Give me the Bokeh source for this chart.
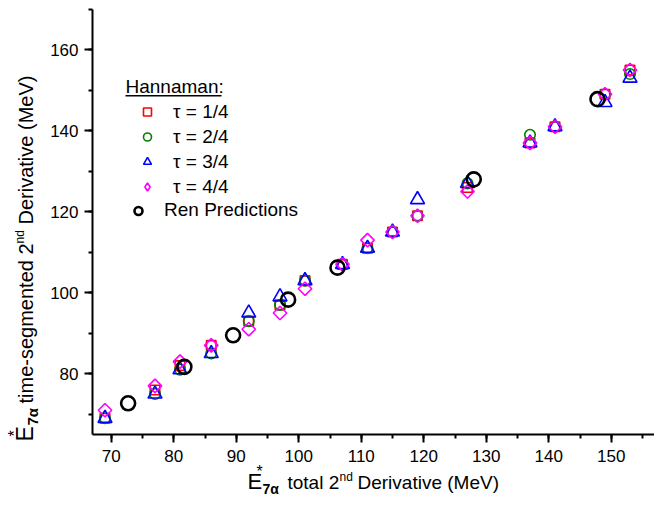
import math
from bokeh.plotting import figure
from bokeh.models import (Range1d, SingleIntervalTicker, Label, Legend, LegendItem,
                          BoxAnnotation)
from bokeh.embed import file_html
from bokeh.resources import INLINE

# ---------------- data ----------------
x_total = [69, 77, 81, 86, 92, 97, 101, 107, 111, 115, 119, 127, 137, 141, 149, 153]
tau_1_4 = [69, 76, 82, 87, 93, 97, 103, 107, 111, 115, 119, 126, 137, 141, 149, 155]
tau_2_4 = [69, 75, 81, 85, 93, 97, 103, 107, 111, 115, 119, 127, 139, 141, 149, 154]
tau_3_4 = [69, 75, 81, 85, 95, 99, 103, 107, 111, 115, 123, 127, 137, 141, 147, 153]
tau_4_4 = [71, 77, 83, 87, 91, 95, 101, 107, 113, 115, 119, 125, 137, 141, 149, 155]
ren_x = [72.7, 81.7, 89.5, 98.3, 106.2, 128.0, 147.8]
ren_y = [72.7, 81.7, 89.5, 98.3, 106.2, 128.0, 147.8]

series_labels = ["τ = 1/4", "τ = 2/4", "τ = 3/4", "τ = 4/4"]
ren_label = "Ren Predictions"
legend_title = "Hannaman"

x_axis_min, x_axis_max = 67, 158
y_axis_min, y_axis_max = 65, 170

FONT = "Liberation Sans"
W, H = 654, 496
# frame covers whole canvas; axes drawn at fixed locations
X_PX_PER_UNIT = 6.25
Y_PX_PER_UNIT = 4.05
AX_LEFT_PX = 92
AX_BOTTOM_PX = 434
x_start = x_axis_min - AX_LEFT_PX / X_PX_PER_UNIT
x_end = x_start + W / X_PX_PER_UNIT
y_start = y_axis_min - (H - AX_BOTTOM_PX) / Y_PX_PER_UNIT
y_end = y_start + H / Y_PX_PER_UNIT

p = figure(width=W, height=H, x_range=Range1d(x_start, x_end), y_range=Range1d(y_start, y_end),
           output_backend="svg", toolbar_location=None,
           min_border_left=0, min_border_right=0, min_border_top=0, min_border_bottom=0)
p.outline_line_color = None
p.xgrid.visible = False
p.ygrid.visible = False
p.background_fill_color = "white"
p.border_fill_color = "white"

p.xaxis.ticker = SingleIntervalTicker(interval=10, num_minor_ticks=2)
p.yaxis.ticker = SingleIntervalTicker(interval=20, num_minor_ticks=2)
p.xaxis.fixed_location = y_axis_min
p.yaxis.fixed_location = x_axis_min
p.xaxis.bounds = (x_axis_min, min(x_axis_max, x_end))
p.yaxis.bounds = (y_axis_min, y_axis_max)
for ax in (p.xaxis[0], p.yaxis[0]):
    ax.axis_line_width = 2
    ax.axis_line_color = "black"
    ax.major_tick_line_width = 2
    ax.minor_tick_line_width = 2
    ax.major_tick_line_color = "black"
    ax.minor_tick_line_color = "black"
    ax.major_tick_out = 8
    ax.major_tick_in = 0
    ax.minor_tick_out = 4
    ax.minor_tick_in = 0
    ax.major_label_text_font = FONT
    ax.major_label_text_font_size = "17px"
    ax.major_label_text_color = "black"
p.xaxis.major_label_standoff = 7
p.yaxis.major_label_standoff = 6

# ---------------- markers ----------------
r1 = p.scatter(x_total, tau_1_4, marker="square", size=9.5, fill_color=None,
               line_color="#ff0000", line_width=1.6)
r2 = p.scatter(x_total, tau_2_4, marker="circle", size=10.5, fill_color=None,
               line_color="#008000", line_width=1.6)
r3 = p.scatter(x_total, tau_3_4, marker="triangle", size=14, fill_color=None,
               line_color="#0000ff", line_width=1.6)
r4 = p.scatter(x_total, tau_4_4, marker="square", angle=math.pi / 4, size=9.5, fill_color=None,
               line_color="#ff00ff", line_width=1.6)
r5 = p.scatter(ren_x, ren_y, marker="circle", size=14, fill_color=None,
               line_color="black", line_width=2.6)
# legend swatch for the rotated-square series (legend swatches are never rotated);
# a single undefined point, so nothing is drawn in the plot area
r4_key = p.scatter([float("nan")], [float("nan")], marker="diamond",
                   size=14, fill_color=None, line_color="#ff00ff", line_width=1.6)

legend_style = dict(orientation="vertical", padding=0, margin=0, spacing=3,
                    glyph_width=20, glyph_height=21, label_height=21, label_standoff=16,
                    label_text_font=FONT, label_text_font_size="19px", label_text_color="black",
                    border_line_alpha=0, background_fill_alpha=0)
legA = Legend(items=[LegendItem(label=lab, renderers=[r]) for lab, r in zip(series_labels, [r1, r2, r3, r4_key])],
              location=(137, H - 197.5), **legend_style)
legB = Legend(items=[LegendItem(label=ren_label, renderers=[r5])],
              location=(128, H - 221), **legend_style)
p.add_layout(legA)
p.add_layout(legB)

SHIFT = 0.3  # observed baseline offset of rendered labels, in em


def add_text(text, px, py, size, angle=0.0, bold=False):
    if angle:
        px = px - SHIFT * size
    else:
        py = py - SHIFT * size
    p.add_layout(Label(x=px, y=H - py, x_units="screen", y_units="screen",
                       text=text, text_font=FONT, text_font_size=f"{size}px",
                       text_font_style="bold" if bold else "normal", angle=angle,
                       text_align="left", text_baseline="alphabetic", text_color="black"))


# legend header with underline
add_text(legend_title + ":", 125, 92, 19)
p.add_layout(BoxAnnotation(left=125, right=221, top=H - 94.5, bottom=H - 96,
                           left_units="screen", right_units="screen",
                           top_units="screen", bottom_units="screen",
                           fill_color="black", fill_alpha=1, line_alpha=0))

# x axis label
add_text("E", 247, 488, 22)
add_text("*", 256, 476, 16)
add_text("7α", 262, 493, 14, bold=True)
add_text("total 2", 287, 488, 19)
add_text("nd", 339, 480, 12)
add_text("Derivative (MeV)", 357, 488, 19)

# y axis label (rotated)
a = math.pi / 2
add_text("E", 31, 441, 23, angle=a)
add_text("*", 18.5, 436, 16, angle=a)
add_text("7α", 36, 425, 15, angle=a, bold=True)
add_text("time-segmented 2", 31, 403, 20, angle=a)
add_text("nd", 23, 243, 12, angle=a)
add_text("Derivative (MeV)", 31, 224, 20, angle=a)

open("out.html", "w").write(file_html(p, INLINE))
